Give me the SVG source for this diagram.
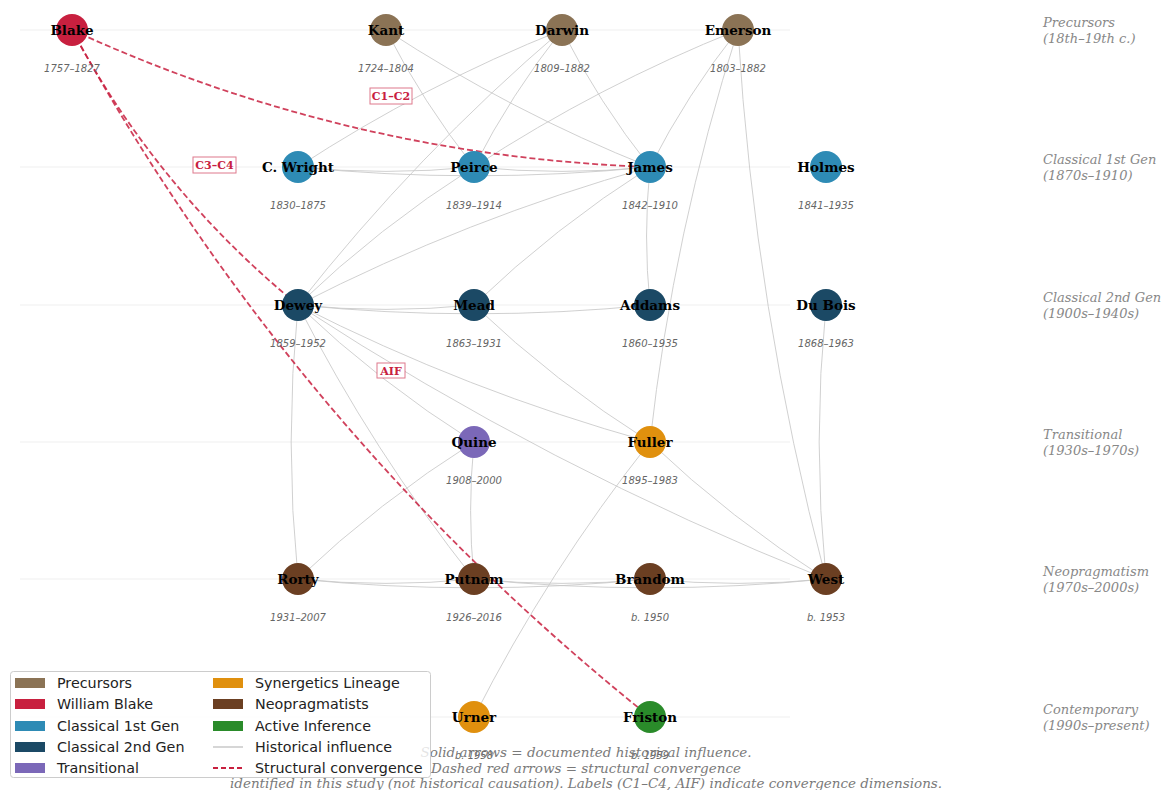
<svg xmlns="http://www.w3.org/2000/svg" width="1167" height="790" viewBox="0 0 1167 790">
<style>
.row{stroke:#efefef;stroke-width:1}
.e{fill:none;stroke:#c8c8c8;stroke-width:1;opacity:0.85}
.d{fill:none;stroke:#C8203F;stroke-width:1.8;stroke-dasharray:6 3;opacity:0.85}
.nm{font-family:"DejaVu Serif",serif;font-weight:bold;font-size:13.5px;text-anchor:middle;fill:#000}
.yr{font-family:"DejaVu Sans",sans-serif;font-style:italic;font-size:10px;text-anchor:middle;fill:#666}
.rl{font-family:"DejaVu Serif",serif;font-style:italic;font-size:13px;fill:#888}
.lg{font-family:"DejaVu Sans",sans-serif;font-size:14.3px;fill:#222}
.fn{font-family:"DejaVu Serif",serif;font-style:italic;font-size:13.5px;fill:#7a7a7a;text-anchor:middle}
.cb{fill:#fff;stroke:#C8203F;stroke-opacity:0.6;stroke-width:1}
.ct{font-family:"DejaVu Serif",serif;font-weight:bold;font-size:11px;fill:#C8203F;text-anchor:middle}
.prec{fill:#8B7355}.blake{fill:#C8203F}.c1{fill:#2E8BB5}.c2{fill:#1B4965}.tr{fill:#7B68B8}.syn{fill:#E0900E}.neo{fill:#6B3F22}.ai{fill:#2A8B2A}
</style>
<rect width="1167" height="790" fill="#fff"/>
<g id="rows">
<line class="row" x1="20" y1="30" x2="790" y2="30"/>
<line class="row" x1="20" y1="167" x2="790" y2="167"/>
<line class="row" x1="20" y1="305" x2="790" y2="305"/>
<line class="row" x1="20" y1="442" x2="790" y2="442"/>
<line class="row" x1="20" y1="579" x2="790" y2="579"/>
<line class="row" x1="20" y1="717" x2="790" y2="717"/>
</g>
<g id="row-labels">
<text class="rl" x="1043" y="27">Precursors</text><text class="rl" x="1043" y="43">(18th–19th c.)</text>
<text class="rl" x="1043" y="164">Classical 1st Gen</text><text class="rl" x="1043" y="180">(1870s–1910)</text>
<text class="rl" x="1043" y="302">Classical 2nd Gen</text><text class="rl" x="1043" y="318">(1900s–1940s)</text>
<text class="rl" x="1043" y="439">Transitional</text><text class="rl" x="1043" y="455">(1930s–1970s)</text>
<text class="rl" x="1043" y="576">Neopragmatism</text><text class="rl" x="1043" y="592">(1970s–2000s)</text>
<text class="rl" x="1043" y="714">Contemporary</text><text class="rl" x="1043" y="730">(1990s–present)</text>
</g>
<g id="connectors">
<path class="e" d="M386,30 Q423.2,102.9 474,167"/>
<path class="e" d="M386,30 Q511.2,111.7 650,167"/>
<path class="e" d="M562,30 Q423.2,85.3 298,167"/>
<path class="e" d="M562,30 Q511.2,94.1 474,167"/>
<path class="e" d="M562,30 Q599.2,102.9 650,167"/>
<path class="e" d="M562,30 Q416.3,154.3 298,305"/>
<path class="e" d="M738,30 Q599.2,85.3 474,167"/>
<path class="e" d="M738,30 Q687.2,94.1 650,167"/>
<path class="e" d="M738,30 Q673.4,231.6 650,442"/>
<path class="e" d="M738,30 Q754.6,308.9 826,579"/>
<path class="e" d="M298,167 Q386,175.8 474,167"/>
<path class="e" d="M298,167 Q474,184.6 650,167"/>
<path class="e" d="M474,167 Q562,175.8 650,167"/>
<path class="e" d="M474,167 Q379.1,227.2 298,305"/>
<path class="e" d="M650,167 Q467.1,218.4 298,305"/>
<path class="e" d="M650,167 Q555.1,227.2 474,305"/>
<path class="e" d="M650,167 Q643.1,236 650,305"/>
<path class="e" d="M298,305 Q386,313.8 474,305"/>
<path class="e" d="M298,305 Q474,322.6 650,305"/>
<path class="e" d="M298,305 Q284.3,442 298,579"/>
<path class="e" d="M298,305 Q372.3,450.8 474,579"/>
<path class="e" d="M298,305 Q379.2,382.3 474,442"/>
<path class="e" d="M298,305 Q467.2,391.1 650,442"/>
<path class="e" d="M298,305 Q548.3,468.4 826,579"/>
<path class="e" d="M474,305 Q555.2,382.3 650,442"/>
<path class="e" d="M474,442 Q379.2,501.7 298,579"/>
<path class="e" d="M474,442 Q467.2,510.5 474,579"/>
<path class="e" d="M650,442 Q548.3,570.7 474,717"/>
<path class="e" d="M650,442 Q731.2,519.3 826,579"/>
<path class="e" d="M826,305 Q812.3,442 826,579"/>
<path class="e" d="M298,579 Q386,587.8 474,579"/>
<path class="e" d="M298,579 Q474,596.6 650,579"/>
<path class="e" d="M474,579 Q562,587.8 650,579"/>
<path class="e" d="M474,579 Q650,596.6 826,579"/>
<path class="e" d="M650,579 Q738,587.8 826,579"/>
<path class="d" d="M72,30 Q347.3,156.3 650,167"/>
<path class="d" d="M72,30 Q157.5,190.1 298,305"/>
<path class="d" d="M72,30 Q292.3,431.3 650,717"/>
</g>
<g id="conv-labels">
<rect class="cb" x="370" y="88" width="42" height="16"/><text class="ct" x="391" y="100">C1–C2</text>
<rect class="cb" x="193" y="157" width="43" height="16"/><text class="ct" x="214.5" y="169">C3–C4</text>
<rect class="cb" x="377" y="363" width="28" height="15"/><text class="ct" x="391" y="374.5">AIF</text>
</g>
<g id="n-blake"><circle class="blake" cx="72" cy="30" r="16"/><text class="nm" x="72" y="34.5">Blake</text><text class="yr" x="72" y="72">1757–1827</text></g>
<g id="n-kant"><circle class="prec" cx="386" cy="30" r="16"/><text class="nm" x="386" y="34.5">Kant</text><text class="yr" x="386" y="72">1724–1804</text></g>
<g id="n-darwin"><circle class="prec" cx="562" cy="30" r="16"/><text class="nm" x="562" y="34.5">Darwin</text><text class="yr" x="562" y="72">1809–1882</text></g>
<g id="n-emerson"><circle class="prec" cx="738" cy="30" r="16"/><text class="nm" x="738" y="34.5">Emerson</text><text class="yr" x="738" y="72">1803–1882</text></g>
<g id="n-wright"><circle class="c1" cx="298" cy="167" r="16"/><text class="nm" x="298" y="171.5">C. Wright</text><text class="yr" x="298" y="209">1830–1875</text></g>
<g id="n-peirce"><circle class="c1" cx="474" cy="167" r="16"/><text class="nm" x="474" y="171.5">Peirce</text><text class="yr" x="474" y="209">1839–1914</text></g>
<g id="n-james"><circle class="c1" cx="650" cy="167" r="16"/><text class="nm" x="650" y="171.5">James</text><text class="yr" x="650" y="209">1842–1910</text></g>
<g id="n-holmes"><circle class="c1" cx="826" cy="167" r="16"/><text class="nm" x="826" y="171.5">Holmes</text><text class="yr" x="826" y="209">1841–1935</text></g>
<g id="n-dewey"><circle class="c2" cx="298" cy="305" r="16"/><text class="nm" x="298" y="309.5">Dewey</text><text class="yr" x="298" y="347">1859–1952</text></g>
<g id="n-mead"><circle class="c2" cx="474" cy="305" r="16"/><text class="nm" x="474" y="309.5">Mead</text><text class="yr" x="474" y="347">1863–1931</text></g>
<g id="n-addams"><circle class="c2" cx="650" cy="305" r="16"/><text class="nm" x="650" y="309.5">Addams</text><text class="yr" x="650" y="347">1860–1935</text></g>
<g id="n-dubois"><circle class="c2" cx="826" cy="305" r="16"/><text class="nm" x="826" y="309.5">Du Bois</text><text class="yr" x="826" y="347">1868–1963</text></g>
<g id="n-quine"><circle class="tr" cx="474" cy="442" r="16"/><text class="nm" x="474" y="446.5">Quine</text><text class="yr" x="474" y="484">1908–2000</text></g>
<g id="n-fuller"><circle class="syn" cx="650" cy="442" r="16"/><text class="nm" x="650" y="446.5">Fuller</text><text class="yr" x="650" y="484">1895–1983</text></g>
<g id="n-rorty"><circle class="neo" cx="298" cy="579" r="16"/><text class="nm" x="298" y="583.5">Rorty</text><text class="yr" x="298" y="621">1931–2007</text></g>
<g id="n-putnam"><circle class="neo" cx="474" cy="579" r="16"/><text class="nm" x="474" y="583.5">Putnam</text><text class="yr" x="474" y="621">1926–2016</text></g>
<g id="n-brandom"><circle class="neo" cx="650" cy="579" r="16"/><text class="nm" x="650" y="583.5">Brandom</text><text class="yr" x="650" y="621">b. 1950</text></g>
<g id="n-west"><circle class="neo" cx="826" cy="579" r="16"/><text class="nm" x="826" y="583.5">West</text><text class="yr" x="826" y="621">b. 1953</text></g>
<g id="n-urner"><circle class="syn" cx="474" cy="717" r="16"/><text class="nm" x="474" y="721.5">Urner</text><text class="yr" x="474" y="759">b. 1958</text></g>
<g id="n-friston"><circle class="ai" cx="650" cy="717" r="16"/><text class="nm" x="650" y="721.5">Friston</text><text class="yr" x="650" y="759">b. 1959</text></g>
<g id="footnote">
<text class="fn" x="586" y="757">Solid arrows = documented historical influence.</text>
<text class="fn" x="586" y="773">Dashed red arrows = structural convergence</text>
<text class="fn" x="586" y="788">identified in this study (not historical causation). Labels (C1–C4, AIF) indicate convergence dimensions.</text>
</g>
<g id="legend">
<rect x="10.5" y="671.5" width="420" height="106" rx="3" fill="#fff" fill-opacity="0.8" stroke="#cccccc"/>
<rect class="prec" x="15" y="678" width="30" height="10"/><text class="lg" x="57" y="688">Precursors</text>
<rect class="blake" x="15" y="699" width="30" height="10"/><text class="lg" x="57" y="709">William Blake</text>
<rect class="c1" x="15" y="721" width="30" height="10"/><text class="lg" x="57" y="731">Classical 1st Gen</text>
<rect class="c2" x="15" y="742" width="30" height="10"/><text class="lg" x="57" y="752">Classical 2nd Gen</text>
<rect class="tr" x="15" y="763" width="30" height="10"/><text class="lg" x="57" y="773">Transitional</text>
<rect class="syn" x="213" y="678" width="30" height="10"/><text class="lg" x="255" y="688">Synergetics Lineage</text>
<rect class="neo" x="213" y="699" width="30" height="10"/><text class="lg" x="255" y="709">Neopragmatists</text>
<rect class="ai" x="213" y="721" width="30" height="10"/><text class="lg" x="255" y="731">Active Inference</text>
<line x1="213" y1="747" x2="243" y2="747" stroke="#c8c8c8" stroke-width="1.5"/><text class="lg" x="255" y="752">Historical influence</text>
<line x1="213" y1="768" x2="243" y2="768" stroke="#C8203F" stroke-width="1.8" stroke-dasharray="5 3"/><text class="lg" x="255" y="773">Structural convergence</text>
</g>
</svg>
